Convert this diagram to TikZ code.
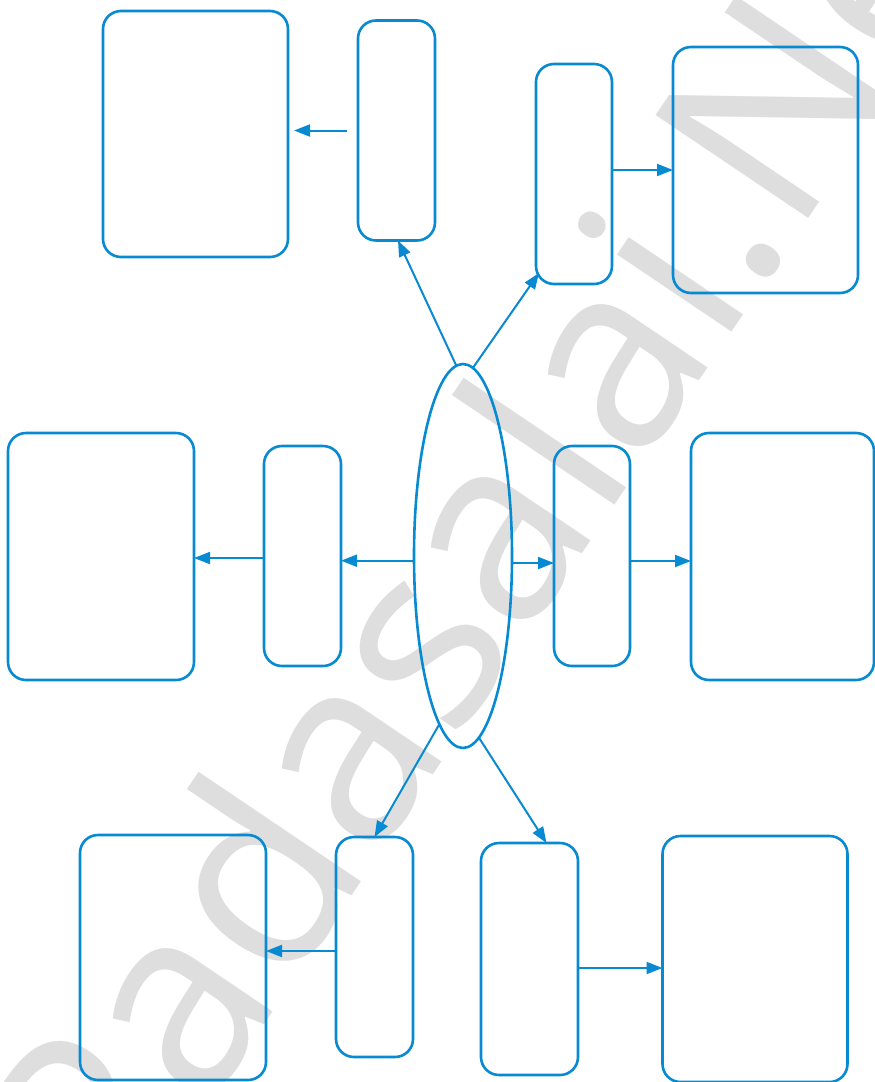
\documentclass[tikz,border=0pt]{standalone}
\usepackage{fontspec}
\newfontfamily\wmfont{Open Sans}
\usetikzlibrary{arrows.meta,shapes.geometric,calc}
\definecolor{diagblue}{RGB}{8,138,210}
\definecolor{wmgray}{RGB}{222,222,222}
\tikzset{
  box/.style={draw=diagblue,line width=2.6pt,rounded corners=18pt,outer sep=0pt,inner sep=0pt},
  bigbox/.style={box,minimum width=185pt,minimum height=246pt},
  slimbox/.style={box,minimum width=77pt,minimum height=220pt},
  arr/.style={draw=diagblue,line width=2pt,-{Triangle[length=16pt,width=12pt]}},
  wm/.style={text=wmgray,font=\wmfont\fontsize{258}{258}\selectfont,inner sep=0pt,outer sep=0pt}
}
\begin{document}
\begin{tikzpicture}[x=1pt,y=-1pt]
\useasboundingbox (0,0) rectangle (875,1082);
\begin{scope}
\clip (0,0) rectangle (875,1082);
\node[wm,anchor=base west,rotate=56] (mark) at (118,1242) {Padasalai.Net};
\end{scope}
% boxes
\node[bigbox] (b1) at (195.5,134) {};
\node[slimbox] (b2) at (396.5,130.5) {};
\node[slimbox,minimum width=76pt] (b3) at (574,174) {};
\node[bigbox] (b4) at (765.5,170) {};
\node[bigbox,minimum width=186pt,minimum height=247pt] (b5) at (101,556.5) {};
\node[slimbox] (b6) at (302.5,556) {};
\node[slimbox,minimum width=76pt] (b7) at (592,556) {};
\node[bigbox,minimum width=183pt,minimum height=247pt] (b8) at (782.5,556.5) {};
\node[bigbox,minimum width=186pt,minimum height=245pt] (b9) at (173,957.5) {};
\node[slimbox] (b10) at (374.5,947) {};
\node[slimbox,minimum width=97pt,minimum height=232pt] (b11) at (529.5,959) {};
\node[bigbox] (b12) at (755,959) {};
% central ellipse
\node[ellipse,draw=diagblue,line width=2.6pt,minimum width=98pt,minimum height=384pt,inner sep=0pt,outer sep=0pt] (ell) at (463,556) {};
% connectors from the ellipse
\draw[arr] (ell.92) -- ([xshift=1.5pt]b2.south);
\draw[arr] (ell.87) -- ($(b3.south west)+(3,-11)$);
\draw[arr] ([yshift=-4.7pt]ell.west) -- ([yshift=-4.7pt]ell.west -| b6.east);
\draw[arr] ([yshift=-7pt]ell.east) -- ([yshift=-7pt]ell.east -| b7.west);
\draw[arr] (ell.262.5) -- (b10.north);
\draw[arr] (ell.275.3) -- ([xshift=17pt]b11.north);
% connectors between boxes
\draw[arr,shorten <=11pt,shorten >=6pt] (b2.west) -- (b2.west -| b1.east);
\draw[arr] ([yshift=4pt]b3.east) -- ([yshift=4pt]b3.east -| b4.west);
\draw[arr] ([yshift=-2pt]b6.west) -- ([yshift=-2pt]b6.west -| b5.east);
\draw[arr] ([yshift=-5pt]b7.east) -- ([yshift=-5pt]b7.east -| b8.west);
\draw[arr] ([yshift=-4pt]b10.west) -- ([yshift=-4pt]b10.west -| b9.east);
\draw[arr] ([yshift=-9pt]b11.east) -- ([yshift=-9pt]b11.east -| b12.west);
\end{tikzpicture}
\end{document}
